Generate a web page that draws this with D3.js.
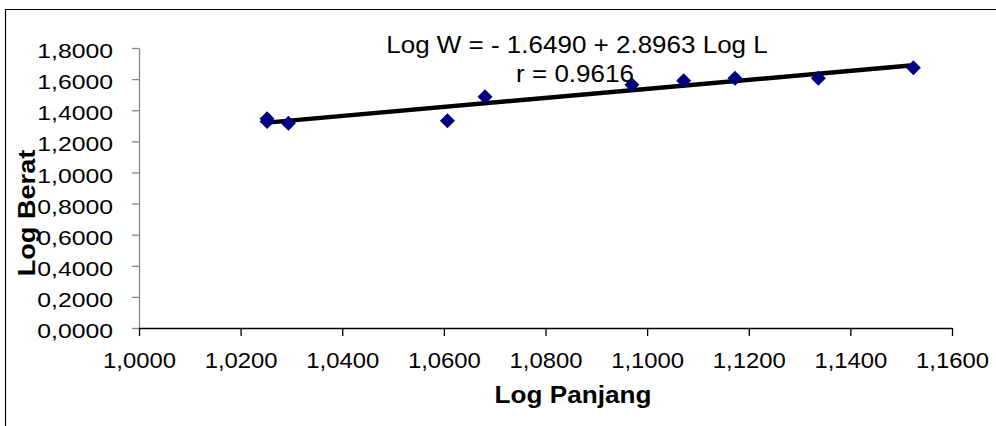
<!DOCTYPE html>
<html>
<head>
<meta charset="utf-8">
<script src="https://cdn.jsdelivr.net/npm/d3@7"></script>
<style>
  body { margin: 0; background: #fff; }
  text { font-family: "Liberation Sans", Arial, sans-serif; fill: #000; }
</style>
</head>
<body>
<div id="chart"></div>
<script>
var svgWidth = 996;
var svgHeight = 426;

var margin = { top: 48, bottom: 98, left: 139, right: 44 };
var width = svgWidth - margin.left - margin.right;
var height = svgHeight - margin.top - margin.bottom;

// data
var logPanjang = [1.0252, 1.0252, 1.0294, 1.0607, 1.0681, 1.0970, 1.1072, 1.1173, 1.1337, 1.1524];
var logBerat   = [1.345, 1.328, 1.316, 1.332, 1.487, 1.564, 1.589, 1.606, 1.605, 1.673];
var xTicks = [1.00, 1.02, 1.04, 1.06, 1.08, 1.10, 1.12, 1.14, 1.16];
var yTicks = [0, 0.2, 0.4, 0.6, 0.8, 1.0, 1.2, 1.4, 1.6, 1.8];
// trend line coefficients from the chart label
var trendIntercept = -1.6490;
var trendSlope = 2.8963;
var equationLines = ["Log W = - 1.6490 + 2.8963 Log L", "r = 0.9616"];

var points = logPanjang.map((x, i) => ({ x: x, y: logBerat[i] }));

var fmt = d => d3.format(".4f")(d).replace(".", ",");

// stretch text horizontally (the original font is wider)
function stretch(sel, k) {
    sel.each(function () {
        var w = this.getComputedTextLength();
        d3.select(this).attr("textLength", w * k).attr("lengthAdjust", "spacingAndGlyphs");
    });
}

var svg = d3.select("#chart")
    .append("svg")
    .attr("width", svgWidth)
    .attr("height", svgHeight);

// frame (only top and left visible)
svg.append("path")
    .attr("d", `M5.5,${svgHeight} V9.5 H${svgWidth}`)
    .attr("fill", "none")
    .attr("stroke", "#000")
    .attr("stroke-width", 1.2);

var chartGroup = svg.append("g")
    .attr("transform", `translate(${margin.left}, ${margin.top})`);

var xScale = d3.scaleLinear().domain([1.0, 1.16]).range([0, width]);
var yScale = d3.scaleLinear().domain([0, 1.8]).range([height, 0]);

// y axis
var yAxis = chartGroup.append("g")
    .call(d3.axisLeft(yScale).tickValues(yTicks).tickFormat(fmt).tickSize(7).tickPadding(19).tickSizeOuter(0));
yAxis.select(".domain").attr("stroke", "#888").attr("stroke-width", 1.3);
yAxis.selectAll(".tick line").attr("stroke", "#888").attr("stroke-width", 1.3);
yAxis.selectAll(".tick text")
    .attr("font-size", "21px")
    .attr("font-family", "Liberation Sans, Arial, sans-serif")
    .attr("dy", "9.6px")
    .call(stretch, 1.18);

// x axis
var xAxis = chartGroup.append("g")
    .attr("transform", `translate(0,${height})`)
    .call(d3.axisBottom(xScale).tickValues(xTicks).tickFormat(fmt).tickSize(8).tickSizeOuter(0));
xAxis.select(".domain").attr("stroke", "#000").attr("stroke-width", 1.3);
xAxis.selectAll(".tick line").attr("stroke", "#000").attr("stroke-width", 1.3);
xAxis.selectAll(".tick text")
    .attr("font-size", "22.5px")
    .attr("font-family", "Liberation Sans, Arial, sans-serif")
    .attr("y", 40)
    .attr("dy", 0)
    .call(stretch, 1.06);

// trend line over the range of the data
var xExt = d3.extent(logPanjang);
chartGroup.append("line")
    .attr("x1", xScale(xExt[0]))
    .attr("y1", yScale(trendIntercept + trendSlope * xExt[0]))
    .attr("x2", xScale(xExt[1]))
    .attr("y2", yScale(trendIntercept + trendSlope * xExt[1]))
    .attr("stroke", "#000")
    .attr("stroke-width", 4.5);

// markers
chartGroup.selectAll("path.pt")
    .data(points)
    .enter()
    .append("path")
    .attr("class", "pt")
    .attr("d", "M0,-7.5L7.5,0L0,7.5L-7.5,0Z")
    .attr("transform", d => `translate(${xScale(d.x)},${yScale(d.y)})`)
    .attr("fill", "#000080");

// equation label
svg.selectAll("text.eq")
    .data(equationLines)
    .enter()
    .append("text")
    .attr("class", "eq")
    .attr("x", (d, i) => i === 0 ? 577 : 575)
    .attr("y", (d, i) => i === 0 ? 53 : 82)
    .attr("text-anchor", "middle")
    .attr("font-size", "23px")
    .text(d => d)
    .call(stretch, 1.13);

// axis titles
svg.append("text")
    .attr("x", 573)
    .attr("y", 403)
    .attr("text-anchor", "middle")
    .attr("font-size", "24px")
    .attr("font-weight", "bold")
    .text("Log Panjang")
    .call(stretch, 1.09);

svg.append("text")
    .attr("transform", "translate(35, 213) rotate(-90)")
    .attr("text-anchor", "middle")
    .attr("font-size", "24px")
    .attr("font-weight", "bold")
    .text("Log Berat")
    .call(stretch, 1.13);
</script>
</body>
</html>
